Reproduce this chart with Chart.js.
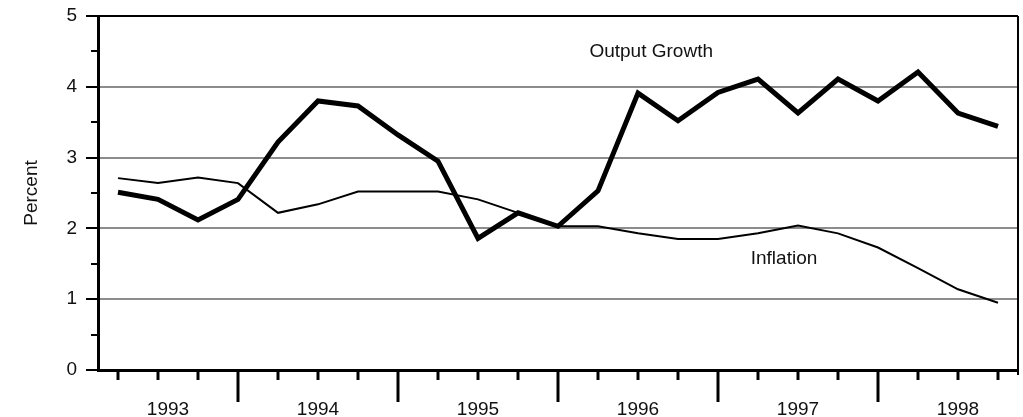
<!DOCTYPE html>
<html>
<head>
<meta charset="utf-8">
<script src="https://cdn.jsdelivr.net/npm/chart.js@4.4.1/dist/chart.umd.min.js"></script>
<style>
  html, body { margin: 0; padding: 0; background: #fff; }
  #wrap { width: 1023px; height: 417px; }
</style>
</head>
<body>
<div id="wrap"><canvas id="growthChart" width="1023" height="417"></canvas></div>
<script>
// quarterly data, 1993:Q2 - 1998:Q4
const quarters = [
  "1993 Q2", "1993 Q3", "1993 Q4",
  "1994 Q1", "1994 Q2", "1994 Q3", "1994 Q4",
  "1995 Q1", "1995 Q2", "1995 Q3", "1995 Q4",
  "1996 Q1", "1996 Q2", "1996 Q3", "1996 Q4",
  "1997 Q1", "1997 Q2", "1997 Q3", "1997 Q4",
  "1998 Q1", "1998 Q2", "1998 Q3", "1998 Q4",
];
const outputGrowth = [
  2.51, 2.41, 2.12,
  2.41, 3.22, 3.8, 3.73,
  3.32, 2.95, 1.86, 2.22,
  2.03, 2.53, 3.91, 3.52,
  3.92, 4.11, 3.63, 4.11,
  3.8, 4.21, 3.63, 3.44,
];
const inflation = [
  2.71, 2.64, 2.72,
  2.64, 2.22, 2.34, 2.52,
  2.52, 2.52, 2.41, 2.22,
  2.03, 2.03, 1.93, 1.85,
  1.85, 1.93, 2.04, 1.93,
  1.73, 1.44, 1.14, 0.95,
];
const years = ["1993", "1994", "1995", "1996", "1997", "1998"];
const yMin = 0;
const yMax = 5;

const FONT = "'Liberation Sans', Arial, Helvetica, sans-serif";
const FONT_SIZE = 19;
const TEXT = "#111";

// tick marks, year labels and the two series captions
const axisDecor = {
  id: "axisDecor",
  afterDraw(chart) {
    const { ctx, chartArea: a, scales: { x, y } } = chart;
    ctx.save();
    ctx.strokeStyle = "#000";
    ctx.lineCap = "butt";

    // right frame
    ctx.lineWidth = 2;
    ctx.beginPath();
    ctx.moveTo(a.right, a.top);
    ctx.lineTo(a.right, a.bottom + 5);
    ctx.stroke();

    // x ticks: long one at each Q1
    ctx.lineWidth = 3;
    const majors = [];
    quarters.forEach((q, i) => {
      const px = Math.round(x.getPixelForValue(i));
      const isMajor = q.endsWith("Q1");
      if (isMajor) majors.push(i);
      ctx.beginPath();
      ctx.moveTo(px, a.bottom);
      ctx.lineTo(px, a.bottom + (isMajor ? 32 : 10));
      ctx.stroke();
    });

    // y ticks
    ctx.lineWidth = 2;
    for (let v = yMin; v <= yMax; v += 0.5) {
      const py = Math.round(y.getPixelForValue(v));
      const len = v % 1 === 0 ? 12 : 7;
      ctx.beginPath();
      ctx.moveTo(a.left - len, py);
      ctx.lineTo(a.left, py);
      ctx.stroke();
    }

    // year labels centred between the Q1 ticks (first one from the axis)
    const bounds = [-0.5, ...majors, quarters.length];
    ctx.fillStyle = TEXT;
    ctx.font = FONT_SIZE + "px " + FONT;
    ctx.textAlign = "center";
    ctx.textBaseline = "middle";
    years.forEach((yr, k) => {
      const px = k === 0
        ? (a.left + x.getPixelForValue(bounds[1])) / 2
        : x.getPixelForValue((bounds[k] + bounds[k + 1]) / 2);
      ctx.fillText(yr, px, 410);
    });

    // series captions
    ctx.fillText("Output Growth", x.getPixelForValue(13.33), y.getPixelForValue(4.5));
    ctx.fillText("Inflation", x.getPixelForValue(16.65), y.getPixelForValue(1.57));
    ctx.restore();
  },
};

const ctx = document.getElementById("growthChart").getContext("2d");
const chart = new Chart(ctx, {
  type: "line",
  data: {
    labels: quarters,
    datasets: [
      {
        label: "Inflation",
        data: inflation,
        borderColor: "#000",
        borderWidth: 2,
        pointRadius: 0,
        tension: 0,
        fill: false,
      },
      {
        label: "Output Growth",
        data: outputGrowth,
        borderColor: "#000",
        borderWidth: 5,
        pointRadius: 0,
        tension: 0,
        fill: false,
      },
    ],
  },
  options: {
    responsive: false,
    animation: false,
    layout: { padding: { top: 16, right: 5, left: 0, bottom: 0 } },
    plugins: {
      legend: { display: false },
      tooltip: { enabled: false },
    },
    scales: {
      x: {
        type: "category",
        offset: true,
        grid: { display: false, drawTicks: false },
        border: { display: true, color: "#000", width: 3 },
        ticks: { display: false },
        afterFit: (scale) => { scale.height = 47; },
      },
      y: {
        min: yMin,
        max: yMax,
        ticks: {
          stepSize: 1,
          padding: 21,
          color: TEXT,
          font: { family: FONT, size: FONT_SIZE },
        },
        grid: {
          drawTicks: false,
          lineWidth: 2,
          color: (c) => c.tick.value === yMax ? "#000" : (c.tick.value === yMin ? "rgba(0,0,0,0)" : "#8c8c8c"),
        },
        border: { display: true, color: "#000", width: 3 },
        title: {
          display: true,
          text: "Percent",
          color: TEXT,
          font: { family: FONT, size: FONT_SIZE },
          padding: { top: 20, bottom: 0 },
        },
        afterFit: (scale) => {
          scale.width = 98;
          scale.paddingTop = 0;
          scale.paddingBottom = 0;
        },
      },
    },
  },
  plugins: [axisDecor],
});
</script>
</body>
</html>
